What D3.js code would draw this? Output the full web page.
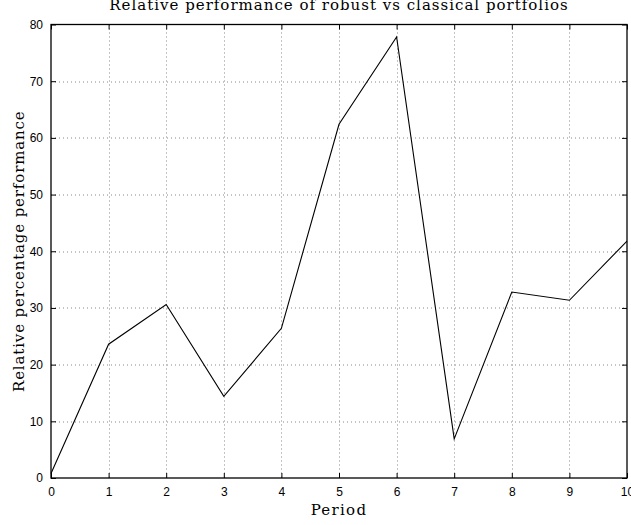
<!DOCTYPE html>
<html>
<head>
<meta charset="utf-8">
<script src="https://cdn.jsdelivr.net/npm/d3@7"></script>
<style>
  body { margin: 0; background: #fff; }
  svg { display: block; }
</style>
</head>
<body>
<svg id="chart" width="631" height="525"></svg>
<script>
// data
let periods = [0, 1, 2, 3, 4, 5, 6, 7, 8, 9, 10];
let relPerf = [0.8, 23.6, 30.6, 14.4, 26.4, 62.4, 77.8, 6.9, 32.8, 31.35, 41.8];
let xTicks = [0, 1, 2, 3, 4, 5, 6, 7, 8, 9, 10];
let yTicks = [0, 10, 20, 30, 40, 50, 60, 70, 80];

let margin = {left: 51, top: 24.5, right: 4, bottom: 47};
let width = 631, height = 525;
let innerW = width - margin.left - margin.right;
let innerH = height - margin.top - margin.bottom;

let svg = d3.select('#chart');
let g = svg.append('g')
    .attr('transform', 'translate(' + [margin.left, margin.top] + ')');

let x = d3.scaleLinear().domain([0, 10]).range([0, innerW]);
let y = d3.scaleLinear().domain([0, 80]).range([innerH, 0]);

// dotted grid
g.append('g')
    .selectAll('line')
    .data(xTicks.slice(1, -1))
    .enter()
    .append('line')
    .attr('x1', d => Math.round(x(d)) + 0.5)
    .attr('x2', d => Math.round(x(d)) + 0.5)
    .attr('y1', 0)
    .attr('y2', innerH)
    .attr('stroke', '#888')
    .attr('stroke-width', 1)
    .attr('stroke-dasharray', '1,3');

g.append('g')
    .selectAll('line')
    .data(yTicks.slice(1, -1))
    .enter()
    .append('line')
    .attr('y1', d => Math.round(y(d)) + 0.5)
    .attr('y2', d => Math.round(y(d)) + 0.5)
    .attr('x1', 0)
    .attr('x2', innerW)
    .attr('stroke', '#888')
    .attr('stroke-width', 1)
    .attr('stroke-dasharray', '1,3');

// axes, ticks pointing inward
let fontTick = '"Liberation Sans", Arial, sans-serif';

let xAxis = g.append('g')
    .attr('transform', 'translate(0,' + innerH + ')')
    .call(d3.axisBottom(x).tickValues(xTicks).tickSizeInner(-5).tickSizeOuter(0).tickPadding(9));
let xTop = g.append('g')
    .call(d3.axisTop(x).tickValues(xTicks).tickSizeInner(-5).tickSizeOuter(0).tickFormat(''));
let yAxis = g.append('g')
    .call(d3.axisLeft(y).tickValues(yTicks).tickSizeInner(-5).tickSizeOuter(0).tickPadding(8));
let yRight = g.append('g')
    .attr('transform', 'translate(' + innerW + ',0)')
    .call(d3.axisRight(y).tickValues(yTicks).tickSizeInner(-5).tickSizeOuter(0).tickFormat(''));

[xAxis, xTop, yAxis, yRight].forEach(function(a) {
    a.select('.domain').remove();
    a.selectAll('line').attr('stroke', '#000');
    a.selectAll('text')
        .style('font-family', fontTick)
        .style('font-size', '12px')
        .attr('fill', '#000');
});

// box
g.append('rect')
    .attr('x', 0)
    .attr('y', 0)
    .attr('width', innerW)
    .attr('height', innerH)
    .attr('fill', 'none')
    .attr('stroke', '#000')
    .attr('stroke-width', 1.3);

// the data line
let line = d3.line()
    .x((d, i) => x(periods[i]))
    .y(d => y(d));

g.append('path')
    .datum(relPerf)
    .attr('d', line)
    .attr('fill', 'none')
    .attr('stroke', '#000')
    .attr('stroke-width', 1.1);

// labels
let fontSerif = '"DejaVu Serif", "Liberation Serif", serif';

svg.append('text')
    .attr('x', margin.left + innerW / 2)
    .attr('y', 10)
    .attr('text-anchor', 'middle')
    .style('font-family', fontSerif)
    .style('font-size', '15px')
    .style('letter-spacing', '1px')
    .text('Relative performance of robust vs classical portfolios');

svg.append('text')
    .attr('x', margin.left + innerW / 2)
    .attr('y', 515)
    .attr('text-anchor', 'middle')
    .style('font-family', fontSerif)
    .style('font-size', '15px')
    .style('letter-spacing', '1.3px')
    .text('Period');

svg.append('text')
    .attr('transform', 'translate(24,' + (margin.top + innerH / 2) + ') rotate(-90)')
    .attr('text-anchor', 'middle')
    .style('font-family', fontSerif)
    .style('font-size', '15px')
    .style('letter-spacing', '0.85px')
    .text('Relative percentage performance');
</script>
</body>
</html>
